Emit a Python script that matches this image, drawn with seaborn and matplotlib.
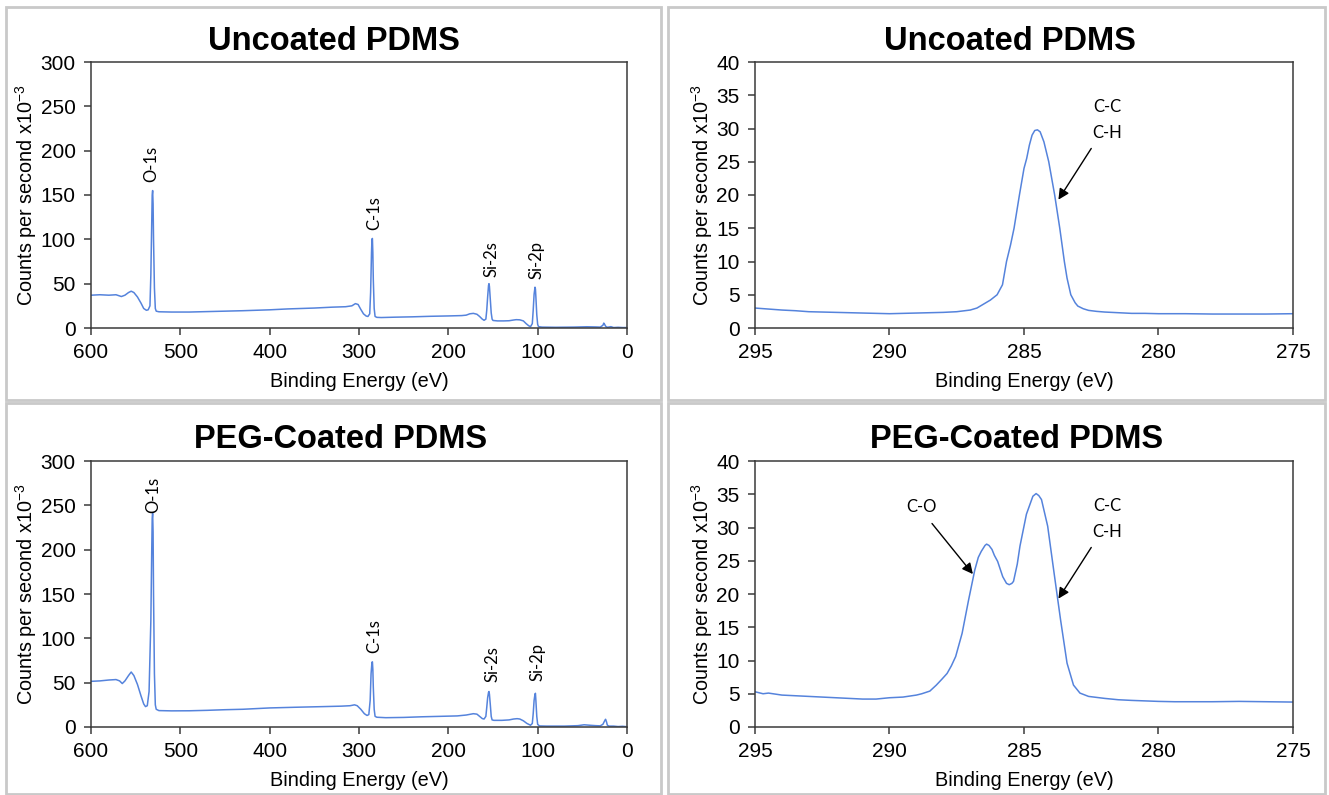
import matplotlib
matplotlib.use("Agg")
import matplotlib.pyplot as plt
from matplotlib.patches import Rectangle
import pandas as pd
import seaborn as sns

# XPS spectra of uncoated / PEG-coated PDMS

# Data ---------------------------------------------------------------
# survey scan, uncoated
unc_survey_ev = [600, 590, 580, 572, 566, 562, 558, 555, 552, 548, 544, 541, 538, 536, 534,
                 533, 532, 531.5, 531, 530.5, 530, 529, 528, 527, 524, 510, 490, 470, 450,
                 430, 400, 380, 350, 330, 315, 308, 304, 301, 298, 295, 292, 290, 288, 287,
                 286, 285.5, 285, 284.5, 284, 283, 282, 280, 275, 260, 240, 220, 200, 185,
                 180, 176, 172, 168, 165, 162, 160, 158, 157, 156, 155, 154.5, 154, 153,
                 152, 151, 150, 145, 138, 132, 127, 124, 120, 116, 113, 110, 108, 106, 105,
                 104, 103, 102.5, 102, 101, 100, 99, 95, 80, 60, 45, 35, 30, 27, 26, 25, 24,
                 22, 18, 15, 10, 5, 0]
unc_survey_cps = [37, 37.5, 37, 37.5, 35.5, 37, 40, 41.5, 40, 35, 28, 22, 20, 20.5, 25,
                  60, 120, 150, 155, 140, 100, 45, 22, 19, 18.3, 18, 18, 18.5, 19,
                  19.5, 20.5, 21.5, 22.5, 23.5, 24, 25, 27.5, 26.5, 21, 16, 13.5, 13, 16, 40,
                  85, 100, 101, 85, 55, 22, 13, 12, 11.8, 12.2, 12.6, 13.2, 13.6, 14,
                  14.5, 16, 16.5, 15.5, 13, 10, 8.7, 10, 20, 35, 48, 50, 47, 32,
                  17, 10, 8.5, 8, 8, 8.2, 9, 9.4, 9.2, 8, 5, 2.5, 1.5, 5, 20,
                  38, 46, 44, 35, 15, 4, 1.5, 1, 0.8, 1, 1.4, 1.2, 1, 3, 5.5, 4, 2,
                  0.8, 1.5, 0.5, 0.8, 0.5, 0.5]

# survey scan, PEG-coated
peg_survey_ev = [600, 590, 580, 572, 568, 565, 562, 558, 555, 552, 548, 544, 541, 539, 537,
                 535, 533, 532, 531.5, 531, 530.5, 530, 529, 528, 527, 524, 510, 490, 470,
                 450, 430, 400, 370, 340, 320, 310, 305, 302, 298, 294, 291, 289, 287.5,
                 286.5, 285.5, 285, 284.5, 284, 283, 282, 280, 270, 250, 230, 210, 190, 180,
                 172, 168, 165, 162, 160, 158, 157, 156, 155, 154.5, 154, 153, 152, 151,
                 149, 140, 132, 127, 123, 120, 116, 112, 108, 106, 105, 104, 103, 102.5,
                 102, 101, 100, 98, 90, 70, 55, 48, 42, 35, 30, 27, 25, 24, 23, 22, 20, 15,
                 10, 5, 0]
peg_survey_cps = [51.5, 52, 53, 53.5, 52, 49, 52, 58, 62, 58, 48, 35, 26, 23, 24,
                  40, 120, 200, 235, 241, 220, 150, 60, 25, 20, 18.5, 18.2, 18.3, 18.8,
                  19.5, 20, 21.5, 22.3, 23, 23.5, 24, 25, 24, 20, 15, 13, 14, 30,
                  60, 73, 73.5, 65, 45, 20, 12, 11, 10.5, 10.8, 11.5, 12, 12.5, 13.5,
                  15, 14.5, 12, 9.5, 9, 12, 22, 33, 39, 40, 37, 25, 12, 8,
                  7.5, 7.5, 8, 9, 9.4, 9, 7, 4, 2, 4, 15, 30, 37, 38,
                  30, 12, 3, 1.2, 1, 1, 1.5, 2.5, 2, 1.5, 1.3, 3, 7, 8.7, 6, 2, 1, 1,
                  0.5, 0.8, 0.3]

# C-1s high resolution, uncoated
unc_c1s_ev = [295, 294.5, 294, 293.5, 293, 292.5, 292, 291.5, 291, 290.5, 290, 289.5, 289,
              288.5, 288, 287.5, 287, 286.75, 286.5, 286.25, 286, 285.8, 285.65, 285.5,
              285.37, 285.17, 285, 284.9, 284.8, 284.7, 284.6, 284.5, 284.4, 284.26,
              284.08, 283.86, 283.67, 283.5, 283.4, 283.26, 283.1, 283, 282.8, 282.6,
              282.3, 282, 281.5, 281, 280.5, 280, 279, 278, 277, 276, 275]
unc_c1s_cps = [3.0, 2.85, 2.7, 2.6, 2.45, 2.4, 2.35, 2.3, 2.25, 2.2, 2.15, 2.2, 2.25,
               2.3, 2.35, 2.45, 2.7, 3.0, 3.6, 4.2, 5.0, 6.5, 10, 12.5,
               15, 20, 24, 25.5, 27.5, 29, 29.7, 29.8, 29.5, 28,
               25, 20, 15, 10, 7.5, 5, 3.8, 3.3, 2.9, 2.65,
               2.5, 2.4, 2.3, 2.2, 2.2, 2.15, 2.15, 2.1, 2.1, 2.1, 2.15]

# C-1s high resolution, PEG-coated
peg_c1s_ev = [295, 294.7, 294.5, 294, 293.5, 293, 292.5, 292, 291.5, 291, 290.5, 290, 289.5,
              289, 288.8, 288.5, 288.26, 288.05, 287.86, 287.7, 287.54, 287.3, 287.06,
              286.83, 286.7, 286.59, 286.45, 286.39, 286.3, 286.19, 286.1, 285.98, 285.79,
              285.65, 285.55, 285.45, 285.39, 285.25, 285.15, 284.91, 284.67, 284.55,
              284.45, 284.35, 284.12, 283.88, 283.64, 283.4, 283.16, 282.92, 282.6, 282,
              281.5, 281, 280, 279.4, 278, 277, 276, 275]
peg_c1s_cps = [5.3, 5.0, 5.1, 4.8, 4.7, 4.6, 4.5, 4.4, 4.3, 4.2, 4.2, 4.4, 4.5,
               4.8, 5.0, 5.4, 6.3, 7.2, 8.05, 9.2, 10.6, 14.1, 19.1,
               23.6, 25.5, 26.4, 27.3, 27.5, 27.3, 26.7, 25.8, 24.9, 22.6,
               21.6, 21.4, 21.6, 21.9, 24.5, 27.2, 32.0, 34.7, 35.1,
               34.8, 34.2, 30.2, 23.1, 16.1, 9.6, 6.3, 5.1, 4.6, 4.3,
               4.1, 4.0, 3.85, 3.8, 3.8, 3.85, 3.8, 3.75]

# peak labels: (text, energy, height of label bottom)
peak_names = ["O-1s", "C-1s", "Si-2s", "Si-2p"]
unc_peak_ev = [532, 283, 152, 101.5]
unc_peak_y = [165, 110, 57, 55]
peg_peak_ev = [530.5, 283, 151, 100.5]
peg_peak_y = [241, 84, 51, 52]

titles = ["Uncoated PDMS", "Uncoated PDMS", "PEG-Coated PDMS", "PEG-Coated PDMS"]

# Style ------------------------------------------------------------
c_line = "#5583dc"
c_frame = "#3a3a3a"
c_box = "#c9c9c9"

sns.set_style("ticks")
plt.rcParams["font.family"] = ["Liberation Sans", "DejaVu Sans"]
plt.rcParams["mathtext.fontset"] = "custom"
plt.rcParams["mathtext.rm"] = "Liberation Sans"
plt.rcParams["mathtext.it"] = "Liberation Sans:italic"
plt.rcParams["text.color"] = "black"
plt.rcParams["axes.labelcolor"] = "black"
plt.rcParams["xtick.labelcolor"] = "black"
plt.rcParams["ytick.labelcolor"] = "black"
label_font = ["Lato", "DejaVu Sans"]

W, H = 1329, 795
fig = plt.figure(figsize=(W / 100, H / 100), dpi=100)


def px_axes(x0, y0, x1, y1):
    return fig.add_axes([x0 / W, 1 - y1 / H, (x1 - x0) / W, (y1 - y0) / H])


# panel boxes
for bx0, by0, bx1, by1 in [(6, 7, 661, 400), (668, 7, 1325, 400),
                           (6, 403, 661, 794), (668, 403, 1325, 794)]:
    fig.add_artist(Rectangle((bx0 / W, 1 - by1 / H), (bx1 - bx0) / W, (by1 - by0) / H,
                             transform=fig.transFigure, fill=False,
                             edgecolor=c_box, linewidth=2))

ax_tl = px_axes(91, 62, 627, 328)
ax_tr = px_axes(755, 62, 1293, 328)
ax_bl = px_axes(91, 461, 627, 727)
ax_br = px_axes(755, 461, 1293, 727)

spectra = [
    (ax_tl, unc_survey_ev, unc_survey_cps),
    (ax_tr, unc_c1s_ev, unc_c1s_cps),
    (ax_bl, peg_survey_ev, peg_survey_cps),
    (ax_br, peg_c1s_ev, peg_c1s_cps),
]

for ax, ev, cps in spectra:
    df = pd.DataFrame({"ev": ev, "cps": cps})
    sns.lineplot(data=df, x="ev", y="cps", ax=ax, sort=False, estimator=None,
                 color=c_line, linewidth=1.1)
    for s in ax.spines.values():
        s.set_visible(True)
        s.set_color(c_frame)
        s.set_linewidth(1.1)
    ax.tick_params(direction="out", length=5, width=1.1, color=c_frame, labelsize=15)
    ax.tick_params(axis="x", pad=6)
    ax.tick_params(axis="y", pad=6)
    ax.set_xlabel("Binding Energy (eV)", fontsize=14.3, labelpad=7)
    ax.set_ylabel(r"Counts per second x10$^{-3}$", fontsize=14.3, labelpad=1)

# survey axes
for ax in [ax_tl, ax_bl]:
    ax.set_xlim(600, 0)
    ax.set_ylim(0, 300)
    ax.set_xticks(range(600, -1, -100))
    ax.set_yticks(range(0, 301, 50))

# high-res axes
for ax in [ax_tr, ax_br]:
    ax.set_xlim(295, 275)
    ax.set_ylim(0, 40)
    ax.set_xticks(range(295, 274, -5))
    ax.set_yticks(range(0, 41, 5))

# peak labels on survey scans
for ax, pev, py in [(ax_tl, unc_peak_ev, unc_peak_y), (ax_bl, peg_peak_ev, peg_peak_y)]:
    for name, x, y in zip(peak_names, pev, py):
        ax.text(x, y, name, rotation=90, ha="center", va="bottom",
                fontsize=12, family=label_font)

# annotations on high-res scans
arrow = dict(arrowstyle="-|>", color="black", lw=1, mutation_scale=16, shrinkA=0, shrinkB=0)
for ax in [ax_tr, ax_br]:
    ax.text(281.9, 33.2, "C-C", ha="center", va="center", fontsize=12, family=label_font)
    ax.text(281.9, 29.3, "C-H", ha="center", va="center", fontsize=12, family=label_font)
    ax.annotate("", xy=(283.72, 19.3), xytext=(282.5, 27.0), arrowprops=arrow)
ax_br.text(288.8, 33.1, "C-O", ha="center", va="center", fontsize=12, family=label_font)
ax_br.annotate("", xy=(286.9, 23.0), xytext=(288.42, 30.6), arrowprops=arrow)

# titles
for (tx, ty), t in zip([(334, 42), (1010, 42), (341, 440), (1017, 440)], titles):
    fig.text(tx / W, 1 - ty / H, t, ha="center", va="center",
             fontsize=23.5, fontweight="bold")

fig.savefig("out.png", dpi=100)
